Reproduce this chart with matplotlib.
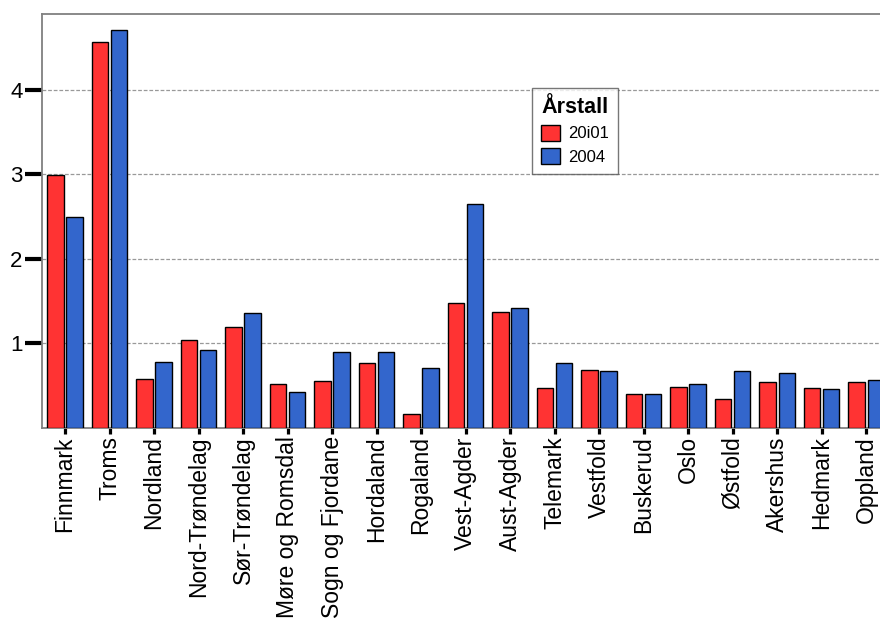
import matplotlib
matplotlib.use("Agg")
import matplotlib.pyplot as plt
import numpy as np

plt.rcParams['font.family'] = ['Liberation Sans', 'DejaVu Sans']

# fylker og verdier lest av figuren
fylker = ['Finnmark', 'Troms', 'Nordland', 'Nord-Trøndelag', 'Sør-Trøndelag',
          'Møre og Romsdal', 'Sogn og Fjordane', 'Hordaland', 'Rogaland',
          'Vest-Agder', 'Aust-Agder', 'Telemark', 'Vestfold', 'Buskerud',
          'Oslo', 'Østfold', 'Akershus', 'Hedmark', 'Oppland']
verdi_2001 = [2.99, 4.57, 0.58, 1.04, 1.20, 0.52, 0.56, 0.77, 0.16,
              1.48, 1.37, 0.47, 0.68, 0.40, 0.49, 0.34, 0.54, 0.47, 0.54]
verdi_2004 = [2.49, 4.71, 0.78, 0.92, 1.36, 0.43, 0.90, 0.90, 0.71,
              2.65, 1.42, 0.77, 0.67, 0.40, 0.52, 0.67, 0.65, 0.46, 0.57]
aar = ['20i01', '2004']

x = np.arange(len(fylker))
w = 0.37

fig = plt.figure(figsize=(8.8, 6.19), dpi=100)
ax = fig.add_axes([0.0477, 0.3086, 0.9523, 0.6688])

ax.bar(x - 0.215, verdi_2001, width=w, color='#FF3333', edgecolor='black',
       linewidth=1, label=aar[0], zorder=3)
ax.bar(x + 0.215, verdi_2004, width=w, color='#3366CC', edgecolor='black',
       linewidth=1, label=aar[1], zorder=3)

ax.set_xlim(-0.517, 18.31)
ax.set_ylim(0, 4.896)
ax.set_yticks([1, 2, 3, 4])
ax.yaxis.grid(True, linestyle=(0, (3, 1.5)), color='#999999', linewidth=0.9, zorder=0)

ax.set_xticks(x)
ax.set_xticklabels(fylker, rotation=90, fontsize=16.5)
ax.tick_params(axis='y', labelsize=16, length=12, width=3, direction='out', pad=2)
ax.tick_params(axis='x', length=4, width=2.3, direction='out', pad=2)

for s in ['left', 'bottom', 'top']:
    ax.spines[s].set_color('#808080')
    ax.spines[s].set_linewidth(1.3)
ax.spines['right'].set_visible(False)

leg = ax.legend(title='Årstall', loc='upper left',
                bbox_to_anchor=(532 / 880, 1 - 88 / 619),
                bbox_transform=fig.transFigure, fontsize=12, frameon=True,
                fancybox=False, edgecolor='#555555', handlelength=1.15,
                handleheight=1.15, handletextpad=0.45, labelspacing=0.38,
                borderpad=0.55, borderaxespad=0)
leg.get_title().set_fontweight('bold')
leg.get_title().set_fontsize(15.5)
leg.get_frame().set_linewidth(1.0)

fig.savefig('out.png', dpi=100)
